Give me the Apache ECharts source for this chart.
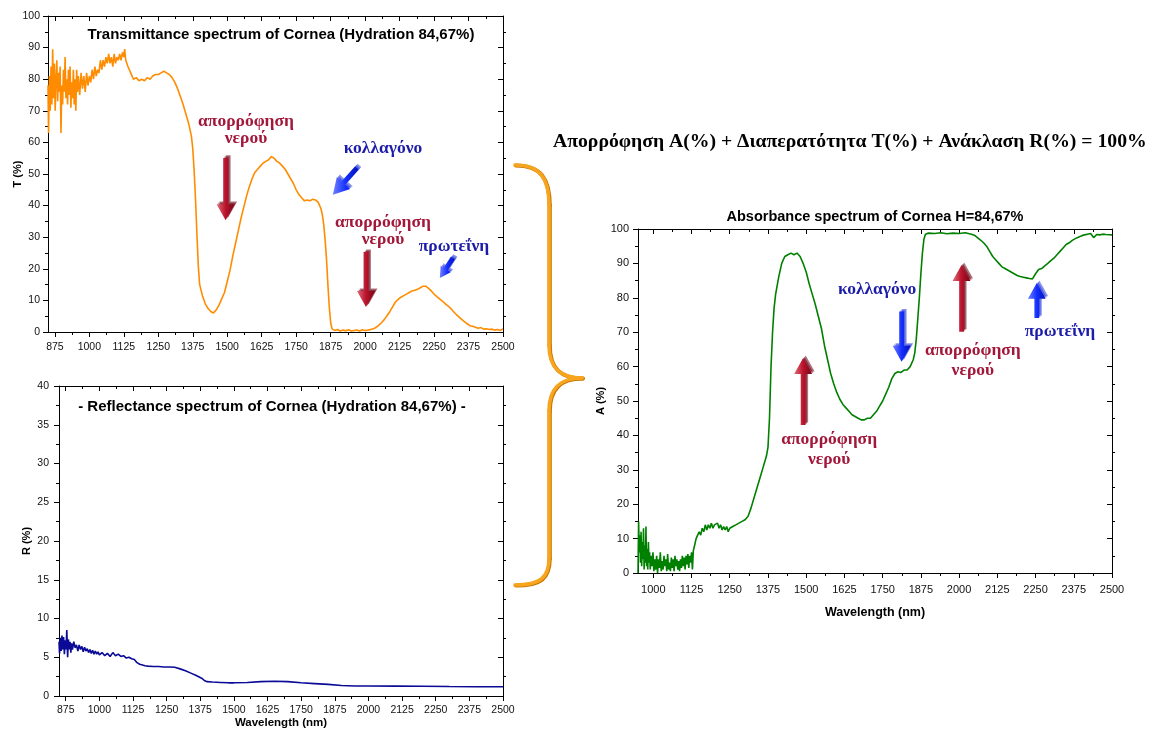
<!DOCTYPE html>
<html>
<head>
<meta charset="utf-8">
<script src="https://cdn.jsdelivr.net/npm/echarts@6/dist/echarts.min.js"></script>
<style>
html, body { margin: 0; padding: 0; background: #fff; }
#chart { width: 1158px; height: 730px; }
</style>
</head>
<body>
<div id="chart"></div>
<script>
// tick labels of the wavelength axes
var wlTicks = [875, 1000, 1125, 1250, 1375, 1500, 1625, 1750, 1875, 2000, 2125, 2250, 2375, 2500]
var wlTicksA = [1000, 1125, 1250, 1375, 1500, 1625, 1750, 1875, 2000, 2125, 2250, 2375, 2500]

// transmittance T(%) [wavelength nm, value]
var transmittance = [
  [850,78],[852,63],[855,81],[858,70],[861,84],[864,72],[867,89.5],[870,74],[873,85],[876,70],
  [879,80],[882,86],[885,73],[888,82],[891,76],[894,84],[897,63],[900,78],[903,72],[906,83],
  [909,76],[912,87],[915,74],[918,80],[921,72],[924,83],[927,75],[930,84],[933,71],[936,79],
  [939,74],[942,83],[945,72],[948,80],[951,70],[954,83],[957,76],[960,81],[965,75],[970,82],
  [975,77],[980,81],[985,76],[990,82],[995,78],[1000,81],[1005,79],[1010,83],[1015,80],[1020,84],
  [1025,81],[1030,83],[1035,82],[1040,86],[1045,83],[1050,86],[1055,84],[1060,87],[1065,85],[1070,88],
  [1075,85],[1080,87],[1085,84],[1090,88],[1095,85],[1100,87],[1105,86],[1110,88],[1115,86],[1120,88.5],
  [1125,87],[1128,89.5],[1132,86],[1136,85],[1140,84],[1145,83],[1150,82],[1160,80],[1170,80.5],[1180,79.5],
  [1190,80],[1200,79.5],[1210,80.5],[1220,80],[1230,81],[1240,81.5],[1250,81.5],[1260,82],[1270,82.5],[1280,82],
  [1290,81.5],[1300,80.5],[1310,79],[1320,77],[1330,74.5],[1340,72],[1350,69],[1360,66],[1370,62],[1375,58],
  [1380,51],[1385,42],[1390,31],[1395,21],[1400,15],[1410,11.5],[1420,9],[1430,7.5],[1440,6.5],[1450,6],
  [1460,7],[1470,8.5],[1480,10.5],[1490,12.5],[1500,16],[1510,19.5],[1520,24],[1530,28],[1540,32],[1550,36],
  [1560,39.5],[1570,43],[1580,46],[1590,48.5],[1600,50.5],[1610,51.5],[1620,52.5],[1630,53.5],[1640,54],[1650,54.5],
  [1660,55.5],[1670,55],[1680,54],[1690,53.5],[1700,52.5],[1710,51.5],[1720,50],[1730,48.5],[1740,47],[1750,45],
  [1760,43.5],[1770,42.5],[1780,41.5],[1790,41.8],[1800,41.5],[1810,42],[1820,41.8],[1830,41],[1840,39],[1845,37],
  [1850,34],[1855,29],[1860,23],[1865,15],[1870,8],[1875,3],[1880,1],[1890,0.5],[1900,0.8],[1910,0.3],
  [1920,0.6],[1930,0.4],[1940,0.7],[1950,0.3],[1960,0.5],[1970,0.6],[1980,0.3],[1990,0.7],[2000,0.5],[2010,0.6],
  [2020,0.8],[2030,1],[2040,1.5],[2050,2.2],[2060,3],[2070,4],[2080,5.2],[2090,6.5],[2100,8],[2110,9.5],
  [2120,10.3],[2130,11],[2140,11.5],[2150,12],[2160,12.5],[2170,13],[2180,13.2],[2190,13.5],[2200,14],[2210,14.5],
  [2215,14.2],[2220,14.5],[2230,13.8],[2240,13],[2250,12],[2260,11.2],[2270,10.5],[2280,9.8],[2290,9],[2300,8.3],
  [2310,7.5],[2320,6.5],[2330,5.6],[2340,4.8],[2350,4],[2360,3.3],[2370,2.6],[2380,2],[2390,1.8],[2400,1.5],
  [2410,1.2],[2420,1.4],[2430,0.9],[2440,1],[2450,0.8],[2460,0.9],[2470,0.6],[2480,0.8],[2490,0.5],[2500,1]
]

// reflectance R(%)
var reflectance = [
  [850,7],[852,5.5],[855,7.5],[858,5.8],[861,7.8],[864,6],[867,7.6],[870,5.4],[873,7.2],[876,6],
  [879,8.5],[882,5],[885,7.3],[888,6],[891,7],[894,5.6],[897,6.8],[900,6],[905,7],[910,6.2],
  [915,6.6],[920,5.8],[925,6.6],[930,6],[935,6.4],[940,5.7],[945,6.3],[950,5.8],[955,6.1],[960,5.6],
  [965,6],[970,5.5],[975,5.9],[980,5.4],[985,5.8],[990,5.4],[995,5.7],[1000,5.3],[1010,5.6],[1020,5.2],
  [1030,5.5],[1040,5.1],[1050,5.6],[1060,5.2],[1070,5.4],[1080,5.1],[1090,5.2],[1100,4.9],[1110,5],[1120,4.8],
  [1130,4.7],[1140,4.3],[1150,4.1],[1160,4],[1170,3.9],[1180,3.85],[1200,3.8],[1220,3.8],[1240,3.75],[1260,3.75],
  [1280,3.7],[1300,3.5],[1320,3.25],[1340,2.95],[1360,2.65],[1380,2.3],[1390,2],[1400,1.85],[1420,1.8],[1450,1.75],
  [1480,1.7],[1500,1.7],[1550,1.75],[1600,1.85],[1650,1.9],[1700,1.85],[1750,1.7],[1800,1.6],[1850,1.5],[1900,1.35],
  [1950,1.3],[2000,1.3],[2100,1.28],[2200,1.25],[2300,1.22],[2400,1.2],[2500,1.2]
]

// absorbance A(%)
var absorbance = [
  [950,0],[952,15],[954,6],[956,11],[958,3],[960,12],[962,2],[964,9],[966,4],[968,13],
  [970,1],[972,8],[974,3],[976,13.5],[978,2],[980,7],[982,1],[984,9],[986,3],[988,6],
  [990,1],[993,5],[996,2],[999,6],[1002,0.5],[1005,4],[1008,1],[1011,5],[1014,0],[1017,4],
  [1020,1.5],[1023,6],[1026,0.5],[1029,3.5],[1032,1],[1035,5],[1038,2],[1041,4],[1044,0.5],[1047,5.5],
  [1050,1],[1053,3],[1056,0.5],[1059,4.5],[1062,1.5],[1065,4],[1068,0.5],[1071,5],[1074,2],[1077,4],
  [1080,1],[1083,3.5],[1086,0.5],[1089,4],[1092,1.5],[1095,5],[1098,2],[1101,4.5],[1104,1],[1107,5],
  [1110,2.5],[1113,5.5],[1116,1.5],[1119,5],[1122,3],[1125,6],[1128,1],[1131,6.5],[1135,8],[1140,10],
  [1145,11],[1150,12],[1155,11],[1160,13],[1165,12],[1170,14],[1175,12.5],[1180,14],[1185,13],[1190,14.5],
  [1195,13],[1200,14],[1205,13.5],[1210,14.5],[1215,13],[1220,14],[1225,12.5],[1230,13.5],[1235,12.5],[1240,13.5],
  [1245,12],[1250,13],[1255,12.5],[1260,13.5],[1265,13],[1270,14],[1275,13.5],[1280,14.5],[1285,14],[1290,15],
  [1295,14.5],[1300,15.5],[1305,15.8],[1310,16.5],[1320,19],[1330,22],[1340,25],[1350,28],[1360,31],[1370,34],[1375,36.5],[1380,45],
  [1385,60],[1390,70],[1395,77],[1400,81],[1410,86],[1420,90],[1430,92],[1440,92.5],[1450,93],[1460,92.5],
  [1470,93],[1480,92],[1490,90],[1500,87.5],[1510,84],[1520,81],[1530,78],[1540,74.5],[1550,71],[1560,66],
  [1570,62],[1580,58],[1590,55],[1600,52.5],[1610,50.5],[1620,49],[1630,48],[1640,47],[1650,46],[1660,45.5],
  [1670,45],[1680,44.5],[1690,44.5],[1700,45],[1710,45],[1720,46],[1730,47],[1740,48.5],[1750,50],[1760,52],
  [1770,54],[1780,56.5],[1790,58],[1800,58.5],[1810,58.3],[1820,59],[1830,59],[1840,60],[1850,62],[1855,64],
  [1860,68],[1865,74],[1870,80],[1875,87],[1880,93],[1885,97],[1890,98.5],[1900,98.8],[1920,98.7],[1940,98.9],
  [1960,98.6],[1980,98.8],[2000,98.7],[2020,98.9],[2040,98.5],[2050,98.2],[2060,97.5],[2070,96.8],[2080,96],[2090,95],
  [2100,93.5],[2110,92],[2120,91],[2130,90],[2140,89],[2150,88.5],[2160,88],[2170,87.5],[2180,87],[2190,86.5],
  [2200,86.2],[2210,86],[2220,85.8],[2230,85.6],[2240,85.5],[2250,87],[2260,88.2],[2270,88.5],[2280,89.3],[2290,90],
  [2300,90.8],[2310,91.5],[2320,92.5],[2330,93.5],[2340,94.5],[2350,95.5],[2360,96],[2370,96.7],[2380,97.2],[2390,97.6],
  [2400,98],[2410,98.3],[2420,98.5],[2430,98.7],[2440,97.5],[2450,98.4],[2460,98.3],[2470,98.5],[2480,98.4],[2500,98.3]
]

// annotations, in data units of each panel
var notesT = [
  {text: 'απορρόφηση\nνερού', at: [1568, 64], kind: 'red'},
  {text: 'κολλαγόνο', at: [2065, 58.2], kind: 'blue'},
  {text: 'απορρόφηση\nνερού', at: [2065, 32], kind: 'red'},
  {text: 'πρωτεΐνη', at: [2322, 27.2], kind: 'blue'}
]
var arrowsT = [
  {from: [1494, 55.1], to: [1494, 35.4], kind: 'red'},
  {from: [1970, 51.9], to: [1883, 43.4], kind: 'blue'},
  {from: [2003, 25.3], to: [2003, 7.9], kind: 'red'},
  {from: [2318, 23.4], to: [2271, 17.1], kind: 'blue'}
]
var notesA = [
  {text: 'απορρόφηση\nνερού', at: [1575, 35.8], kind: 'red'},
  {text: 'κολλαγόνο', at: [1732, 82.3], kind: 'blue'},
  {text: 'απορρόφηση\nνερού', at: [2045, 61.9], kind: 'red'},
  {text: 'πρωτεΐνη', at: [2330, 70.1], kind: 'blue'}
]
var arrowsA = [
  {from: [1490, 43], to: [1490, 62.5], kind: 'red'},
  {from: [1812, 76], to: [1812, 61.4], kind: 'blue'},
  {from: [2008, 70.1], to: [2008, 89.5], kind: 'red'},
  {from: [2254, 74.1], to: [2254, 84.3], kind: 'blue'}
]

var SANS = 'Liberation Sans'
var SERIF = 'Liberation Serif'
var black = '#000'

function minorsOf (major) {
  var m = []
  for (var i = 0; i < major.length - 1; i++) m.push((major[i] + major[i + 1]) / 2)
  return m
}

function plain (v) { return String(v) }

function xAxesFor (gi, min, major, fs, margin, name, nameGap, nameSize) {
  var minor = minorsOf(major)
  var line = {onZero: false, lineStyle: {color: black, width: 1}}
  var tickStyle = {color: black, width: 1}
  var base = {type: 'value', gridIndex: gi, min: min, max: 2500, splitLine: {show: false}, axisLine: line}
  return [
    Object.assign({}, base, {
      position: 'bottom',
      name: name, nameLocation: 'middle', nameGap: nameGap,
      nameTextStyle: {fontFamily: SANS, fontWeight: 'bold', fontSize: nameSize, color: black},
      axisTick: {customValues: major, length: 5, lineStyle: tickStyle},
      axisLabel: {customValues: major, formatter: plain, fontFamily: SANS, fontSize: fs, color: '#111', margin: margin}
    }),
    Object.assign({}, base, {position: 'bottom', axisTick: {customValues: minor, length: 3, lineStyle: tickStyle}, axisLabel: {show: false}}),
    Object.assign({}, base, {position: 'top', axisTick: {customValues: major, inside: true, length: 5, lineStyle: tickStyle}, axisLabel: {show: false}}),
    Object.assign({}, base, {position: 'top', axisTick: {customValues: minor, inside: true, length: 3, lineStyle: tickStyle}, axisLabel: {show: false}})
  ]
}

function yAxesFor (gi, max, interval, fs, margin, name, nameGap, moveName) {
  var line = {show: true, onZero: false, lineStyle: {color: black, width: 1}}
  var tickStyle = {color: black, width: 1}
  var base = {type: 'value', gridIndex: gi, min: 0, max: max, interval: interval, splitLine: {show: false}, axisLine: line}
  return [
    Object.assign({}, base, {
      position: 'left',
      name: name, nameLocation: 'middle', nameGap: nameGap, nameMoveOverlap: moveName,
      nameTextStyle: {fontFamily: SANS, fontWeight: 'bold', fontSize: 11, color: black},
      axisTick: {length: 5, lineStyle: tickStyle},
      minorTick: {show: true, splitNumber: 2, length: 3, lineStyle: tickStyle},
      axisLabel: {fontFamily: SANS, fontSize: fs, color: '#111', margin: margin}
    }),
    Object.assign({}, base, {
      position: 'right',
      axisTick: {inside: true, length: 5, lineStyle: tickStyle},
      minorTick: {show: true, splitNumber: 2, length: -3, lineStyle: tickStyle},
      axisLabel: {show: false}
    })
  ]
}

var chart = echarts.init(document.getElementById('chart'))

chart.setOption({
  animation: false,
  backgroundColor: '#fff',
  grid: [
    {left: 48, top: 16, width: 455, height: 316},
    {left: 59, top: 386, width: 444, height: 311},
    {left: 638, top: 229, width: 474, height: 344}
  ],
  xAxis: [].concat(
    xAxesFor(0, 850, wlTicks, 10.5, 10, '', 0, 11),
    xAxesFor(1, 850, wlTicks, 10.5, 9, 'Wavelength (nm)', 21, 11.5),
    xAxesFor(2, 950, wlTicksA, 11, 11, 'Wavelength (nm)', 33, 12.5)
  ),
  yAxis: [].concat(
    yAxesFor(0, 100, 10, 10.5, 8, 'T (%)', 25, false),
    yAxesFor(1, 40, 5, 10.5, 10, 'R (%)', 27, true),
    yAxesFor(2, 100, 10, 11, 9, 'A (%)', 27, true)
  ),
  series: [
    {type: 'line', name: 'T', xAxisIndex: 0, yAxisIndex: 0, data: transmittance, showSymbol: false,
      lineStyle: {color: '#ff8c00', width: 1.6}},
    {type: 'line', name: 'R', xAxisIndex: 4, yAxisIndex: 2, data: reflectance, showSymbol: false,
      lineStyle: {color: '#0a0a96', width: 1.6}},
    {type: 'line', name: 'A', xAxisIndex: 8, yAxisIndex: 4, data: absorbance, showSymbol: false,
      lineStyle: {color: '#008000', width: 1.6}}
  ]
})

function arrowPts (p0, p1, hw, hh, hl) {
  var dx = p1[0] - p0[0], dy = p1[1] - p0[1]
  var L = Math.sqrt(dx * dx + dy * dy)
  var ux = dx / L, uy = dy / L, nx = -uy, ny = ux
  var bx = p1[0] - ux * hl, by = p1[1] - uy * hl
  return [
    [p0[0] + nx * hw, p0[1] + ny * hw], [bx + nx * hw, by + ny * hw], [bx + nx * hh, by + ny * hh],
    [p1[0], p1[1]],
    [bx - nx * hh, by - ny * hh], [bx - nx * hw, by - ny * hw], [p0[0] - nx * hw, p0[1] - ny * hw]
  ]
}

var palette = {
  red: {text: '#a3183a', back: '#6e0012', grad: ['#e46a78', '#b8142c', '#7c0414']},
  blue: {text: '#1c1caa', back: '#2a3ad8', grad: ['#7080ff', '#1430ff', '#0010b8']}
}

function toPx (xi, yi, v) {
  return chart.convertToPixel({xAxisIndex: xi, yAxisIndex: yi}, v)
}

var graphics = []

function addArrow (a, xi, yi) {
  var p0 = toPx(xi, yi, a.from), p1 = toPx(xi, yi, a.to)
  var c = palette[a.kind]
  var len = Math.hypot(p1[0] - p0[0], p1[1] - p0[1])
  var hl = Math.min(16, len * 0.45), hh = hl * 0.56
  for (var k = 2; k >= 1; k--) {
    graphics.push({type: 'polygon', z: 50,
      shape: {points: arrowPts([p0[0] + k * 1.3, p0[1] - k * 1.3], [p1[0] + k * 1.3, p1[1] - k * 1.3], 2.4, hh, hl)},
      style: {fill: c.back, opacity: 0.55}})
  }
  graphics.push({type: 'polygon', z: 51,
    shape: {points: arrowPts(p0, p1, 2.4, hh, hl)},
    style: {fill: new echarts.graphic.LinearGradient(0, 0, 1, 0, [
      {offset: 0, color: c.grad[0]}, {offset: 0.5, color: c.grad[1]}, {offset: 1, color: c.grad[2]}])}})
}

function addNote (n, xi, yi, lh) {
  var p = toPx(xi, yi, n.at)
  graphics.push({type: 'text', z: 52, x: p[0], y: p[1],
    style: {text: n.text, align: 'center', verticalAlign: 'middle', lineHeight: lh,
      font: 'bold 17.5px "' + SERIF + '"', fill: palette[n.kind].text}})
}

arrowsT.forEach(function (a) { addArrow(a, 0, 0) })
notesT.forEach(function (n) { addNote(n, 0, 0, 17) })
arrowsA.forEach(function (a) { addArrow(a, 8, 4) })
notesA.forEach(function (n) { addNote(n, 8, 4, 20) })

// panel titles and the relation between the three spectra
graphics.push(
  {type: 'text', x: 281, y: 35, style: {text: 'Transmittance spectrum of Cornea (Hydration 84,67%)', align: 'center', verticalAlign: 'middle', font: 'bold 15px "' + SANS + '"', fill: black}},
  {type: 'text', x: 272, y: 407, style: {text: '- Reflectance spectrum of Cornea (Hydration 84,67%) -', align: 'center', verticalAlign: 'middle', font: 'bold 15px "' + SANS + '"', fill: black}},
  {type: 'text', x: 875, y: 217, style: {text: 'Absorbance spectrum of Cornea H=84,67%', align: 'center', verticalAlign: 'middle', font: 'bold 14.5px "' + SANS + '"', fill: black}},
  {type: 'text', x: 553, y: 142, style: {text: 'Απορρόφηση Α(%) + Διαπερατότητα Τ(%) + Ανάκλαση R(%) = 100%', align: 'left', verticalAlign: 'middle', font: 'bold 19.7px "' + SERIF + '"', fill: black}}
)

// orange curly brace joining T and R to A
var braceParts = [
  {type: 'bezierCurve', shape: {x1: 515, y1: 165, cpx1: 540, cpy1: 165, cpx2: 549, cpy2: 178, x2: 549, y2: 205}},
  {type: 'line', shape: {x1: 549, y1: 205, x2: 549, y2: 345}},
  {type: 'bezierCurve', shape: {x1: 549, y1: 345, cpx1: 549, cpy1: 368, cpx2: 560, cpy2: 378, x2: 582, y2: 378}},
  {type: 'bezierCurve', shape: {x1: 582, y1: 378, cpx1: 560, cpy1: 378, cpx2: 549, cpy2: 388, x2: 549, y2: 411}},
  {type: 'line', shape: {x1: 549, y1: 411, x2: 549, y2: 558}},
  {type: 'bezierCurve', shape: {x1: 549, y1: 558, cpx1: 549, cpy1: 578, cpx2: 540, cpy2: 585, x2: 515, y2: 585}}
]
braceParts.forEach(function (p) {
  graphics.push({type: p.type, z: 40, x: 0.8, y: 0.6, shape: p.shape, style: {fill: null, stroke: '#c77400', lineWidth: 4, lineCap: 'round'}})
  graphics.push({type: p.type, z: 41, shape: p.shape, style: {fill: null, stroke: '#f7a51e', lineWidth: 3.6, lineCap: 'round'}})
})

chart.setOption({graphic: graphics})
</script>
</body>
</html>
